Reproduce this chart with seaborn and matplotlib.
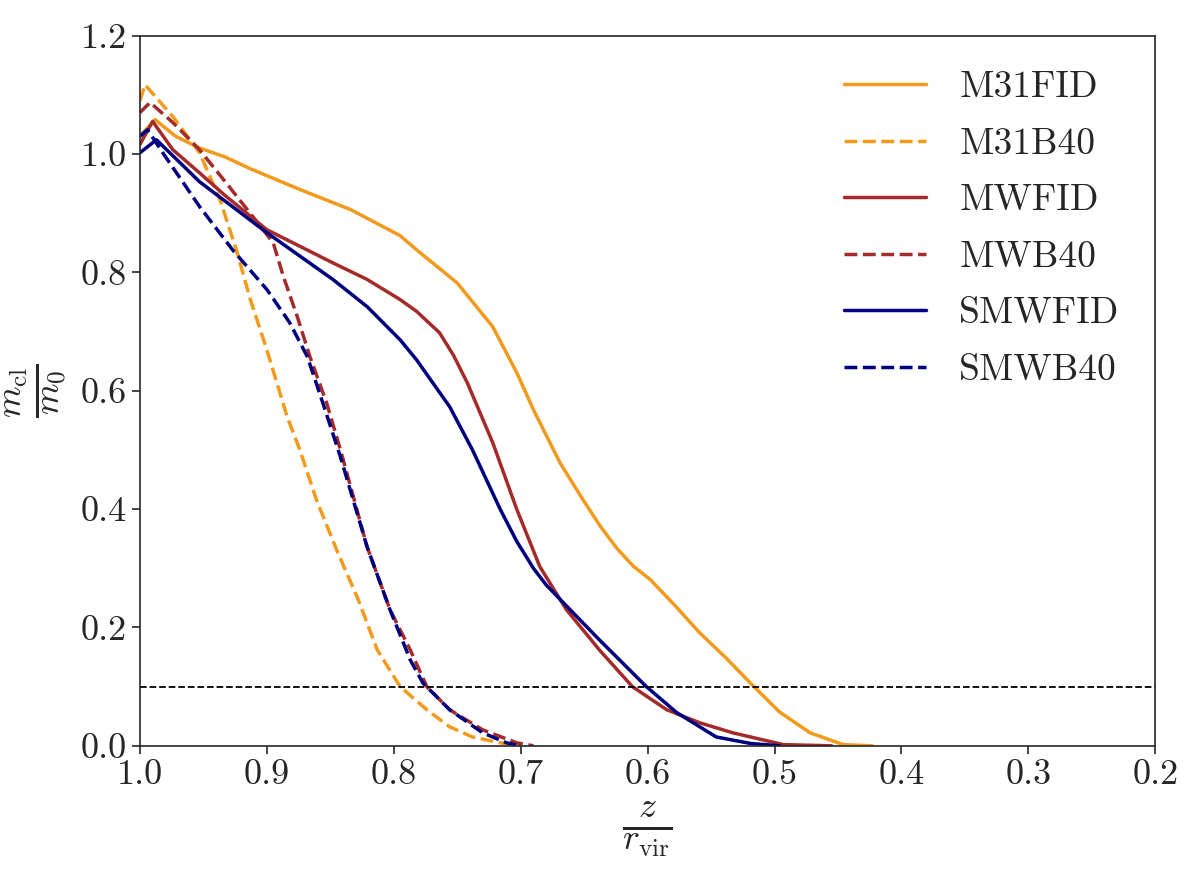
"""Cluster mass fraction versus normalised height for the six runs."""

import matplotlib
matplotlib.use("Agg")
import matplotlib.pyplot as plt
import pandas as pd
import seaborn as sns

# --- data ---
m31fid_x = [1.0, 0.988, 0.972, 0.953, 0.933, 0.913, 0.874, 0.834, 0.795, 0.782, 0.750,
            0.722, 0.703, 0.690, 0.669, 0.651, 0.637, 0.624, 0.611, 0.598, 0.578, 0.559,
            0.538, 0.519, 0.496, 0.472, 0.446, 0.423]
m31fid_y = [1.03, 1.058, 1.03, 1.010, 0.995, 0.975, 0.94, 0.906, 0.862, 0.838, 0.782,
            0.708, 0.630, 0.568, 0.478, 0.416, 0.370, 0.333, 0.303, 0.281, 0.236, 0.191,
            0.148, 0.106, 0.057, 0.022, 0.002, 0.0]

m31b40_x = [1.0, 0.996, 0.974, 0.953, 0.937, 0.924, 0.913, 0.900, 0.884, 0.874, 0.861,
            0.845, 0.828, 0.813, 0.795, 0.774, 0.756, 0.738, 0.716, 0.700]
m31b40_y = [1.09, 1.117, 1.063, 1.002, 0.923, 0.838, 0.754, 0.669, 0.556, 0.50, 0.416,
            0.331, 0.247, 0.162, 0.10, 0.061, 0.032, 0.015, 0.005, 0.0]

mwfid_x = [1.0, 0.990, 0.974, 0.953, 0.933, 0.900, 0.848, 0.821, 0.795, 0.782, 0.764,
           0.753, 0.742, 0.722, 0.703, 0.685, 0.664, 0.638, 0.612, 0.585, 0.559, 0.533,
           0.493, 0.455]
mwfid_y = [1.016, 1.055, 1.007, 0.968, 0.930, 0.872, 0.816, 0.788, 0.754, 0.734, 0.698,
           0.660, 0.613, 0.512, 0.399, 0.303, 0.230, 0.162, 0.10, 0.061, 0.039, 0.022,
           0.002, 0.0]

mwb40_x = [1.0, 0.992, 0.974, 0.953, 0.932, 0.911, 0.895, 0.887, 0.876, 0.866, 0.853,
           0.842, 0.821, 0.803, 0.787, 0.774, 0.756, 0.730, 0.703, 0.690]
mwb40_y = [1.07, 1.087, 1.053, 1.007, 0.951, 0.894, 0.850, 0.793, 0.725, 0.657, 0.580,
           0.50, 0.336, 0.230, 0.162, 0.10, 0.061, 0.027, 0.005, 0.0]

smwfid_x = [1.0, 0.987, 0.953, 0.900, 0.848, 0.821, 0.795, 0.782, 0.756, 0.738, 0.716,
            0.703, 0.690, 0.680, 0.671, 0.638, 0.601, 0.577, 0.546, 0.519, 0.496]
smwfid_y = [1.002, 1.024, 0.953, 0.867, 0.788, 0.742, 0.686, 0.652, 0.573, 0.50, 0.399,
            0.345, 0.300, 0.272, 0.252, 0.179, 0.10, 0.056, 0.015, 0.004, 0.0]

smwb40_x = [1.0, 0.994, 0.982, 0.953, 0.927, 0.900, 0.882, 0.868, 0.856, 0.842, 0.821,
            0.803, 0.787, 0.777, 0.756, 0.730, 0.711, 0.700]
smwb40_y = [1.03, 1.041, 1.002, 0.911, 0.838, 0.771, 0.715, 0.657, 0.580, 0.488, 0.336,
            0.230, 0.145, 0.106, 0.061, 0.022, 0.005, 0.0]

labels = ["M31FID", "M31B40", "MWFID", "MWB40", "SMWFID", "SMWB40"]
threshold = 0.1


def build_frame() -> pd.DataFrame:
    series = [(m31fid_x, m31fid_y), (m31b40_x, m31b40_y), (mwfid_x, mwfid_y),
              (mwb40_x, mwb40_y), (smwfid_x, smwfid_y), (smwb40_x, smwb40_y)]
    parts = []
    for name, (xs, ys) in zip(labels, series):
        parts.append(pd.DataFrame({"x": xs, "y": ys, "run": name}))
    return pd.concat(parts, ignore_index=True)


def main() -> None:
    sns.set_style("ticks")
    plt.rcParams["font.family"] = "serif"
    plt.rcParams["font.serif"] = ["cmr10", "DejaVu Serif"]
    plt.rcParams["mathtext.fontset"] = "cm"
    plt.rcParams["axes.formatter.use_mathtext"] = True

    df = build_frame()
    colors = {"M31FID": "#f39a1c", "M31B40": "#f39a1c", "MWFID": "#a52a2a",
              "MWB40": "#a52a2a", "SMWFID": "#000080", "SMWB40": "#000080"}
    styles = {"M31FID": "-", "M31B40": "--", "MWFID": "-", "MWB40": "--",
              "SMWFID": "-", "SMWB40": "--"}

    fig, ax = plt.subplots(figsize=(11.96, 8.9), dpi=100)
    for name in labels:
        sub = df[df["run"] == name]
        sns.lineplot(data=sub, x="x", y="y", ax=ax, color=colors[name],
                     linestyle=styles[name], linewidth=2.5, label=name,
                     sort=False, estimator=None)

    ax.axhline(threshold, color="black", linestyle="--", linewidth=1.3)

    ax.set_xlim(1.0, 0.2)
    ax.set_ylim(0.0, 1.2)
    ax.set_xticks([1.0, 0.9, 0.8, 0.7, 0.6, 0.5, 0.4, 0.3, 0.2])
    ax.set_yticks([0.0, 0.2, 0.4, 0.6, 0.8, 1.0, 1.2])
    ax.xaxis.set_major_formatter(matplotlib.ticker.FormatStrFormatter("%.1f"))
    ax.yaxis.set_major_formatter(matplotlib.ticker.FormatStrFormatter("%.1f"))
    ax.tick_params(labelsize=26, length=6, width=1.2)
    for spine in ax.spines.values():
        spine.set_visible(True)
        spine.set_linewidth(1.2)

    ax.set_xlabel(r"$\frac{z}{r_{\rm vir}}$", fontsize=37, labelpad=6)
    ax.set_ylabel(r"$\frac{m_{\rm cl}}{m_0}$", fontsize=37, labelpad=8)

    ax.legend(loc="upper right", frameon=False, fontsize=27, handlelength=2.2,
              handletextpad=0.88, labelspacing=0.62, borderaxespad=0.55)

    fig.subplots_adjust(left=0.117, right=0.966, top=0.96, bottom=0.162)
    fig.savefig("out.png", dpi=100)
    plt.close(fig)


if __name__ == "__main__":
    main()
